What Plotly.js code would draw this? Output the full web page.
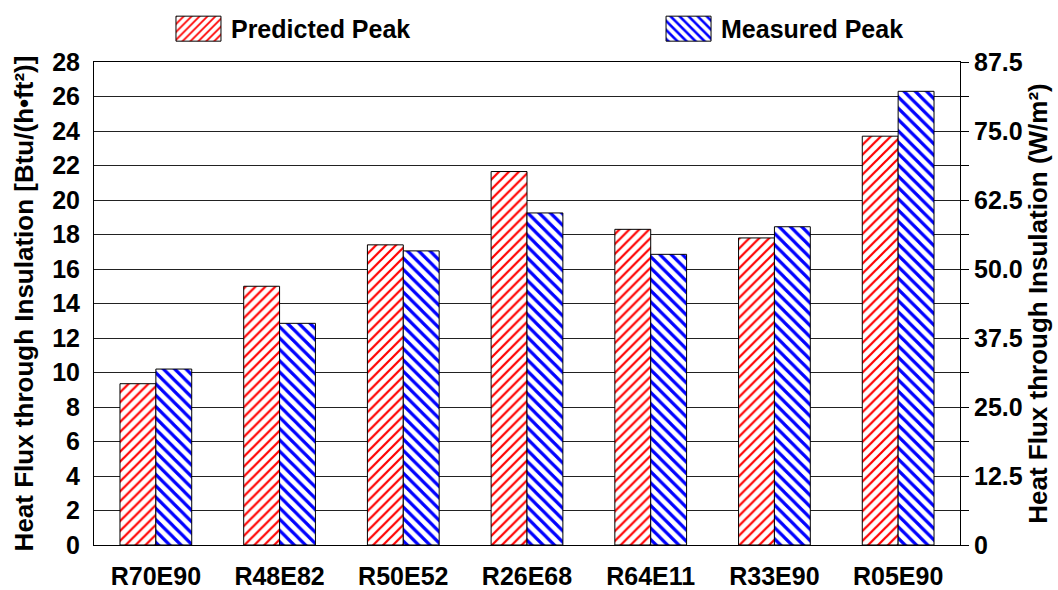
<!DOCTYPE html>
<html>
<head>
<meta charset="utf-8">
<script src="https://cdn.plot.ly/plotly-3.0.1.min.js"></script>
<style>html,body{margin:0;padding:0;background:#fff;}#chart{width:1058px;height:590px;}</style>
</head>
<body>
<div id="chart"></div>
<script>
const categories = ['R70E90', 'R48E82', 'R50E52', 'R26E68', 'R64E11', 'R33E90', 'R05E90'];
const predictedPeak = [9.35, 15.0, 17.4, 21.65, 18.3, 17.8, 23.7];
const measuredPeak = [10.2, 12.85, 17.05, 19.25, 16.85, 18.45, 26.3];
const leftTicks = [0, 2, 4, 6, 8, 10, 12, 14, 16, 18, 20, 22, 24, 26, 28];
const rightTickVals = [0, 12.5, 25, 37.5, 50, 62.5, 75, 87.5];
const rightTickText = ['0', '12.5', '25.0', '37.5', '50.0', '62.5', '75.0', '87.5'];

const FONT = 'Liberation Sans, Arial, sans-serif';

const data = [
  {
    type: 'bar', name: 'Predicted Peak', x: categories, y: predictedPeak,
    marker: {color: 'white', line: {color: '#000', width: 1},
      pattern: {shape: '/', fgcolor: '#ff0000', bgcolor: 'white', size: 7, solidity: 0.32}},
    legend: 'legend'
  },
  {
    type: 'bar', name: 'Measured Peak', x: categories, y: measuredPeak,
    marker: {color: 'white', line: {color: '#000', width: 1},
      pattern: {shape: '\\', fgcolor: '#0000ff', bgcolor: 'white', size: 8, solidity: 0.4}},
    legend: 'legend2'
  },
  {
    type: 'scatter', x: [categories[0]], y: [0], yaxis: 'y2', mode: 'markers',
    marker: {opacity: 0}, showlegend: false, hoverinfo: 'skip'
  }
];

const layout = {
  width: 1058, height: 590,
  margin: {l: 94, r: 98, t: 62, b: 45},
  paper_bgcolor: 'white', plot_bgcolor: 'white',
  font: {family: FONT, size: 25, color: '#000', weight: 'bold'},
  barmode: 'group', bargap: 0.42, bargroupgap: 0,
  showlegend: true,
  legend: {orientation: 'h', xref: 'container', yref: 'container', x: 0.1805, y: 0.951,
    xanchor: 'left', yanchor: 'middle',
    font: {family: FONT, size: 25, weight: 'bold'}, bgcolor: 'rgba(0,0,0,0)'},
  legend2: {orientation: 'h', xref: 'container', yref: 'container', x: 0.6437, y: 0.951,
    xanchor: 'left', yanchor: 'middle',
    font: {family: FONT, size: 25, weight: 'bold'}, bgcolor: 'rgba(0,0,0,0)'},
  xaxis: {
    type: 'category', showline: true, linecolor: '#000', linewidth: 1, mirror: true,
    ticks: '', ticklabelstandoff: 9, tickfont: {family: FONT, size: 25, weight: 'bold'}
  },
  yaxis: {
    range: [0, 28], tickvals: leftTicks, showline: true, linecolor: '#000', linewidth: 1,
    showgrid: true, gridcolor: '#222', gridwidth: 1, zeroline: false, ticks: '',
    ticklabelstandoff: 8,
    tickfont: {family: FONT, size: 25, weight: 'bold'},
    title: {text: 'Heat Flux through Insulation [Btu/(h•ft²)]', standoff: 11,
      font: {family: FONT, size: 26, weight: 'bold'}}
  },
  yaxis2: {
    overlaying: 'y', side: 'right', range: [0, 87.5], tickvals: rightTickVals, ticktext: rightTickText,
    showline: true, linecolor: '#000', linewidth: 1, showgrid: false, zeroline: false,
    ticks: 'outside', ticklen: 8, tickcolor: '#000',
    minor: {dtick: 6.25, tick0: 0, ticks: 'outside', ticklen: 8, tickcolor: '#000', showgrid: false},
    tickfont: {family: FONT, size: 25, weight: 'bold'},
    title: {text: 'Heat Flux through Insulation (W/m²)', standoff: 5,
      font: {family: FONT, size: 26, weight: 'bold'}}
  }
};

function enlargeSwatches(gd) {
  gd.querySelectorAll('.infolayer .traces').forEach(function (tr) {
    const p = tr.querySelector('.legendpoints path');
    if (p) p.setAttribute('d', 'M-35,12.5H10V-12.5H-35Z');
  });
  gd.querySelectorAll('.infolayer [clip-path]').forEach(function (el) {
    el.removeAttribute('clip-path');
  });
}

Plotly.newPlot('chart', data, layout, {staticPlot: true}).then(function (gd) {
  enlargeSwatches(gd);
  setTimeout(function () { enlargeSwatches(gd); }, 50);
});
</script>
</body>
</html>
